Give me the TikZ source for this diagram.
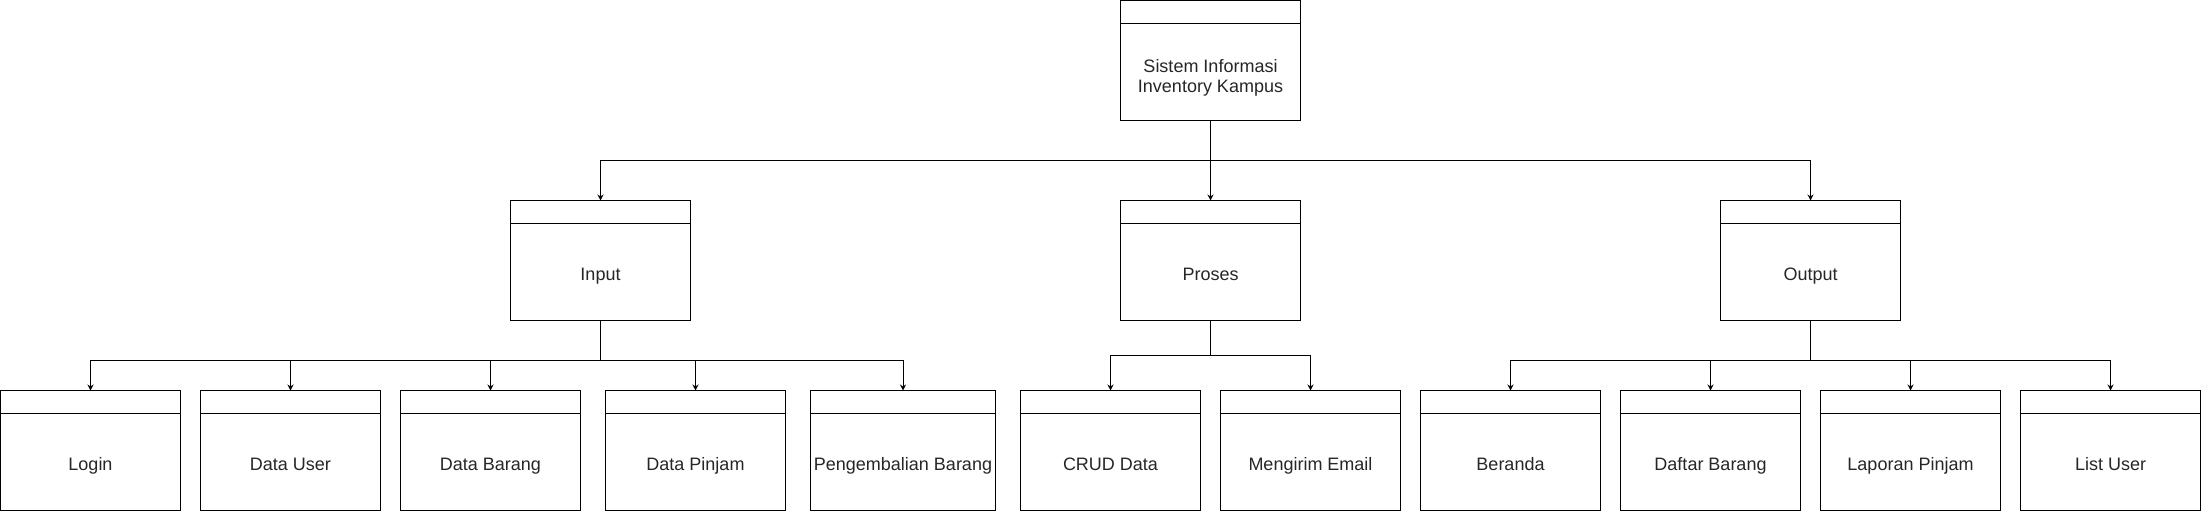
\documentclass[tikz,border=0pt]{standalone}
\usepackage{fontspec}
\setmainfont{Liberation Sans}
\usetikzlibrary{positioning}
\usetikzlibrary{arrows.meta}

\tikzset{
  lane/.style={draw, line width=1pt, minimum width=180pt, minimum height=120pt,
    inner sep=0pt, outer sep=0pt, text=black!85, font=\fontsize{18}{20}\selectfont,
    text height=45pt, text depth=5pt,
    path picture={\draw[line width=1pt]
      ([yshift=-23pt]path picture bounding box.north west) --
      ([yshift=-23pt]path picture bounding box.north east);}},
  arr/.style={draw, line width=1pt, -{Stealth[length=6pt,width=6pt]}}
}

\begin{document}
\begin{tikzpicture}[x=1pt,y=-1pt]
    \useasboundingbox (0,0) rectangle (2201,511);
    \node[lane,align=center,text height=69pt,text depth=5pt] (sistem) at (1210.5,60.5)
      {Sistem Informasi\\Inventory Kampus};
    \node[lane] (input) at (600.5,260.5) {Input};
    \node[lane] (proses) at (1210.5,260.5) {Proses};
    \node[lane] (output) at (1810.5,260.5) {Output};

    \node[lane] (login) at (90.5,450.5) {Login};
    \node[lane,right=20pt of login] (datauser) {Data User};
    \node[lane,right=20pt of datauser] (databarang) {Data Barang};
    \node[lane,right=25pt of databarang] (datapinjam) {Data Pinjam};
    \node[lane,right=25pt of datapinjam,minimum width=185pt] (kembali) {Pengembalian Barang};
    \node[lane,right=25pt of kembali] (crud) {CRUD Data};
    \node[lane,right=20pt of crud] (email) {Mengirim Email};
    \node[lane,right=20pt of email] (beranda) {Beranda};
    \node[lane,right=20pt of beranda] (daftar) {Daftar Barang};
    \node[lane,right=20pt of daftar] (laporan) {Laporan Pinjam};
    \node[lane,right=20pt of laporan] (listuser) {List User};

    \draw[arr] (sistem.south) -- ++(0,40) -| (input.north);
    \draw[arr] (sistem.south) -- (proses.north);
    \draw[arr] (sistem.south) -- ++(0,40) -| (output.north);

    \draw[arr] (input.south) -- ++(0,40) -| (login.north);
    \draw[arr] (input.south) -- ++(0,40) -| (datauser.north);
    \draw[arr] (input.south) -- ++(0,40) -| (databarang.north);
    \draw[arr] (input.south) -- ++(0,40) -| (datapinjam.north);
    \draw[arr] (input.south) -- ++(0,40) -| (kembali.north);

    \draw[arr] (proses.south) -- ++(0,35) -| (crud.north);
    \draw[arr] (proses.south) -- ++(0,35) -| (email.north);

    \draw[arr] (output.south) -- ++(0,40) -| (beranda.north);
    \draw[arr] (output.south) -- ++(0,40) -| (daftar.north);
    \draw[arr] (output.south) -- ++(0,40) -| (laporan.north);
    \draw[arr] (output.south) -- ++(0,40) -| (listuser.north);
\end{tikzpicture}
\end{document}
